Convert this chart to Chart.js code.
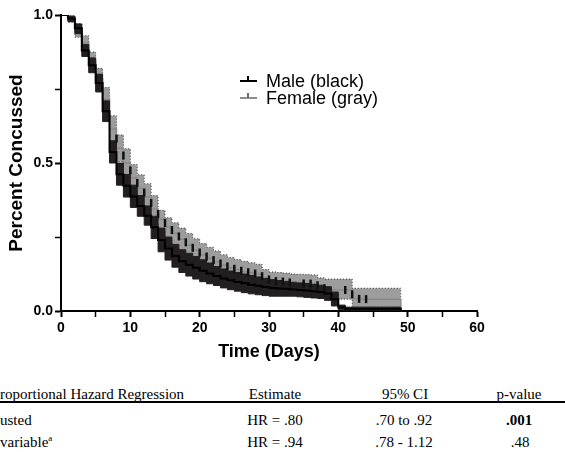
<!DOCTYPE html>
<html lang="en">
<head>
<meta charset="UTF-8">
<title>Percent Concussed by Sex</title>
<script src="https://cdn.jsdelivr.net/npm/chart.js"></script>
<style>
  body { margin: 0; width: 565px; height: 452px; overflow: hidden; position: relative; background: #fff; }
  #plot { position: absolute; left: 0; top: 0; }
  .leg { position: absolute; left: 266px; height: 18px; line-height: 18px; font: 18px "Liberation Sans", Arial, sans-serif; color: #000; white-space: nowrap; }
  .sh { position: absolute; left: 240px; width: 17px; height: 2px; }
  .sv { position: absolute; left: 247px; width: 2px; height: 5px; }
  .tc { position: absolute; height: 16px; line-height: 16px; font: 15px "Liberation Serif", "Times New Roman", serif; color: #000; white-space: nowrap; }
  .c { width: 120px; text-align: center; }
  .rule { position: absolute; left: 0; width: 565px; top: 401px; height: 2px; background: #000; }
  sup { font-size: 9px; line-height: 0; }
</style>
</head>
<body>
<canvas id="plot" width="565" height="372"></canvas>

<div class="sh" style="top:80px;background:#000"></div>
<div class="sv" style="top:76px;background:#000"></div>
<div class="leg" style="top:71px">Male (black)</div>
<div class="sh" style="top:97px;background:#8e8e8e"></div>
<div class="sv" style="top:93px;background:#6e6e6e"></div>
<div class="leg" style="top:88px">Female (gray)</div>

<div class="tc" style="left:0;top:386px">roportional Hazard Regression</div>
<div class="tc c" style="left:215px;top:386px">Estimate</div>
<div class="tc c" style="left:345px;top:386px">95% CI</div>
<div class="tc c" style="left:459px;top:386px">p-value</div>
<div class="rule"></div>
<div class="tc" style="left:0;top:412px">usted</div>
<div class="tc c" style="left:215px;top:412px">HR = .80</div>
<div class="tc c" style="left:344px;top:412px">.70 to .92</div>
<div class="tc c" style="left:459px;top:412px;font-weight:bold">.001</div>
<div class="tc" style="left:0;top:434px">variable<sup>a</sup></div>
<div class="tc c" style="left:215px;top:434px">HR = .94</div>
<div class="tc c" style="left:344px;top:434px">.78 - 1.12</div>
<div class="tc c" style="left:460px;top:434px">.48</div>

<script>
// days since injury
const days = [0, 1, 2, 3, 4, 5, 6, 7, 8, 9, 10, 11, 12, 13, 14, 15, 16, 17, 18, 19,
  20, 21, 22, 23, 24, 25, 26, 27, 28, 29, 30, 31, 32, 33, 34, 35, 36, 37, 38, 39,
  40, 41, 42, 43, 44, 45, 46, 47, 48, 49];

// male: estimate and 95% band
const maleEst = [1.000, 0.988, 0.955, 0.880, 0.830, 0.770, 0.675, 0.537, 0.462, 0.423,
  0.387, 0.355, 0.322, 0.283, 0.240, 0.211, 0.186, 0.168, 0.156, 0.146,
  0.136, 0.127, 0.118, 0.110, 0.104, 0.098, 0.094, 0.089, 0.085, 0.081,
  0.078, 0.076, 0.075, 0.073, 0.071, 0.069, 0.067, 0.064, 0.059, 0.040,
  0.012, 0.008, 0.008, 0.008, 0.008, 0.008, 0.008, 0.008, 0.008, 0.000];
const maleUpper = [1.000, 0.995, 0.970, 0.900, 0.855, 0.800, 0.710, 0.575, 0.500, 0.461,
  0.425, 0.390, 0.355, 0.320, 0.280, 0.250, 0.225, 0.207, 0.195, 0.184,
  0.173, 0.162, 0.150, 0.142, 0.135, 0.130, 0.125, 0.120, 0.115, 0.110,
  0.106, 0.103, 0.100, 0.097, 0.095, 0.093, 0.090, 0.087, 0.082, 0.064,
  0.020, 0.013, 0.013, 0.013, 0.013, 0.013, 0.013, 0.013, 0.013, 0.000];
const maleLower = [1.000, 0.978, 0.937, 0.860, 0.805, 0.740, 0.640, 0.500, 0.425, 0.385,
  0.350, 0.320, 0.290, 0.245, 0.200, 0.172, 0.148, 0.130, 0.118, 0.108,
  0.099, 0.092, 0.086, 0.078, 0.072, 0.067, 0.062, 0.058, 0.055, 0.052,
  0.050, 0.050, 0.050, 0.050, 0.048, 0.046, 0.044, 0.042, 0.036, 0.017,
  0.004, 0.003, 0.003, 0.003, 0.003, 0.003, 0.003, 0.003, 0.003, 0.000];

// female: estimate and 95% band
const femaleEst = [1.000, 0.990, 0.950, 0.905, 0.845, 0.785, 0.715, 0.615, 0.550, 0.500,
  0.450, 0.415, 0.385, 0.345, 0.310, 0.285, 0.262, 0.242, 0.222, 0.205,
  0.190, 0.178, 0.166, 0.155, 0.146, 0.139, 0.133, 0.129, 0.124, 0.111,
  0.102, 0.100, 0.099, 0.094, 0.093, 0.093, 0.092, 0.082, 0.072, 0.071,
  0.071, 0.071, 0.042, 0.040, 0.040, 0.040, 0.040, 0.040, 0.040, 0.000];
const femaleUpper = [1.000, 1.000, 0.970, 0.930, 0.875, 0.820, 0.755, 0.660, 0.595, 0.548,
  0.495, 0.460, 0.430, 0.390, 0.340, 0.315, 0.298, 0.280, 0.262, 0.244,
  0.228, 0.215, 0.203, 0.190, 0.181, 0.174, 0.168, 0.163, 0.158, 0.140,
  0.132, 0.130, 0.128, 0.125, 0.124, 0.123, 0.122, 0.112, 0.108, 0.108,
  0.108, 0.108, 0.077, 0.077, 0.077, 0.077, 0.077, 0.077, 0.077, 0.000];
const femaleLower = [1.000, 0.975, 0.925, 0.875, 0.810, 0.748, 0.675, 0.570, 0.505, 0.452,
  0.405, 0.370, 0.340, 0.300, 0.268, 0.243, 0.222, 0.202, 0.184, 0.168,
  0.153, 0.142, 0.131, 0.121, 0.113, 0.106, 0.100, 0.096, 0.091, 0.080,
  0.072, 0.070, 0.069, 0.064, 0.063, 0.063, 0.062, 0.053, 0.042, 0.040,
  0.040, 0.040, 0.013, 0.013, 0.013, 0.013, 0.013, 0.013, 0.013, 0.000];

// days with a censor tick on the female curve
const censorDays = [8, 9, 10, 11, 12, 13, 14, 15, 16, 17, 18, 19, 20, 21, 22, 23, 24, 25,
  26, 27, 28, 29, 30, 31, 32, 33, 35, 36, 37, 38, 41, 42, 43, 44];

const pts = arr => days.map((d, i) => ({ x: d, y: arr[i] }));
// tick sits on the vertical part of the female step at that day
const censorPts = censorDays.map(d => {
  const i = days.indexOf(d);
  return { x: d, y: (femaleEst[i - 1] + femaleEst[i]) / 2 };
});
const sans = '"Liberation Sans", Arial, Helvetica, sans-serif';

const band = { stepped: true, pointRadius: 0, borderWidth: 1 };

new Chart(document.getElementById('plot'), {
  type: 'line',
  data: {
    datasets: [
      { label: 'Female censored', data: censorPts, showLine: false, order: -1,
        pointStyle: 'line', rotation: 90, pointRadius: 4, pointBorderWidth: 2.5,
        pointBorderColor: '#111', pointBackgroundColor: '#111' },
      { label: 'Male (black)', data: pts(maleEst), stepped: true, pointRadius: 0,
        borderColor: '#000', borderWidth: 2, fill: false, order: 0 },
      { ...band, label: 'Male upper', data: pts(maleUpper), borderColor: '#231f20',
        backgroundColor: '#231f20', fill: '+1', order: 2 },
      { ...band, label: 'Male lower', data: pts(maleLower), borderColor: '#231f20',
        fill: false, order: 1 },
      { label: 'Female (gray)', data: pts(femaleEst), stepped: true, pointRadius: 0,
        borderColor: '#8a8a8a', borderWidth: 1.5, fill: false, order: 3 },
      { ...band, label: 'Female upper', data: pts(femaleUpper), borderColor: '#333',
        borderDash: [1, 2], backgroundColor: '#9d9d9d', fill: '+1', order: 5 },
      { ...band, label: 'Female lower', data: pts(femaleLower), borderColor: '#333',
        borderDash: [1, 2], fill: false, order: 4 }
    ]
  },
  options: {
    responsive: false,
    animation: false,
    layout: { padding: { left: 0, top: 15, right: 88, bottom: 0 } },
    plugins: { legend: { display: false }, tooltip: { enabled: false } },
    scales: {
      x: {
        type: 'linear', min: 0, max: 60,
        afterFit: s => { s.height = 61; },
        ticks: { stepSize: 5, autoSkip: false, maxRotation: 0, padding: 3, color: '#000',
          font: { family: sans, size: 14, weight: 'bold' },
          callback: v => v % 10 === 0 ? v : '' },
        grid: { drawOnChartArea: false, tickLength: 6, color: '#000',
          tickWidth: c => (c.tick && c.tick.value % 10 === 0) ? 2 : 1.5 },
        border: { color: '#000', width: 2 },
        title: { display: true, text: 'Time (Days)', color: '#000',
          font: { family: sans, size: 18, weight: 'bold' }, padding: { top: 0, bottom: 9 } }
      },
      y: {
        min: 0, max: 1,
        afterFit: s => { s.width = 61; },
        ticks: { stepSize: 0.25, padding: 2, color: '#000',
          font: { family: sans, size: 14, weight: 'bold' },
          callback: v => Math.abs(v % 0.5) < 1e-9 ? v.toFixed(1) : '' },
        grid: { drawOnChartArea: false, tickLength: 6, color: '#000',
          tickWidth: c => (c.tick && Math.abs(c.tick.value % 0.5) < 1e-9) ? 2 : 1.5 },
        border: { color: '#000', width: 2 },
        title: { display: true, text: 'Percent Concussed', color: '#000',
          font: { family: sans, size: 19, weight: 'bold' }, padding: { top: 5, bottom: 0 } }
      }
    }
  }
});
</script>
</body>
</html>
